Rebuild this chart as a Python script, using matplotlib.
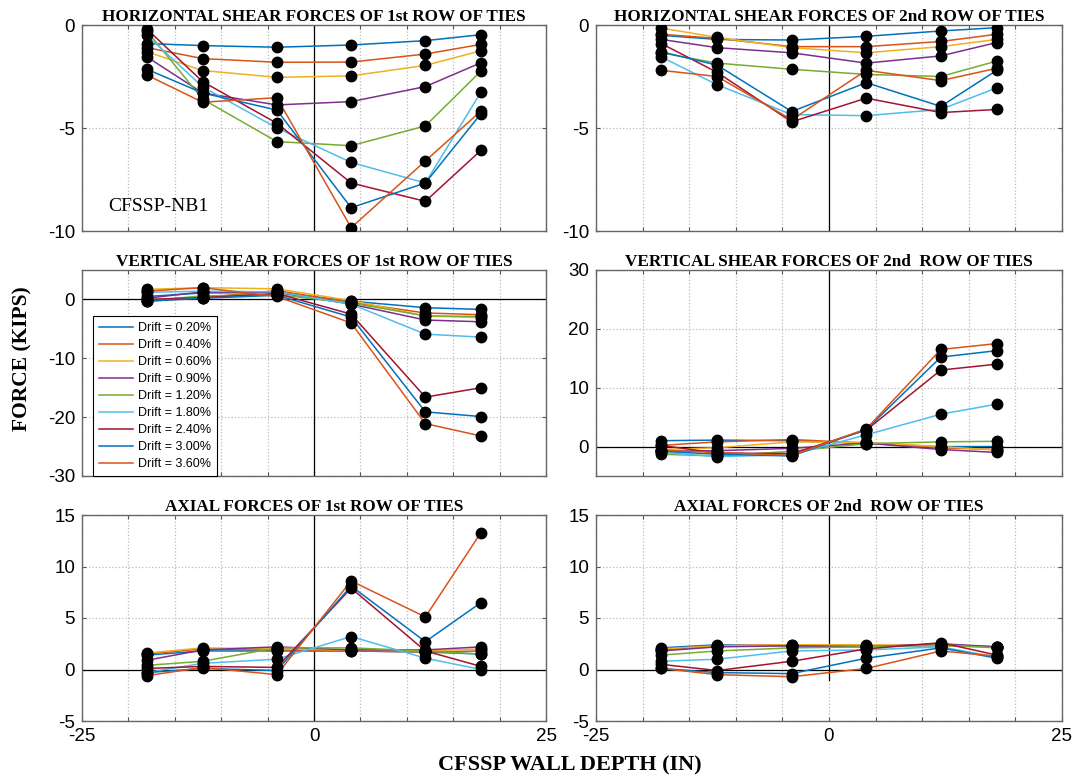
#!/usr/bin/env python

import matplotlib.pyplot as plt

# tie positions across the wall depth (in)
depth = [-18, -12, -4, 4, 12, 18]

drifts = ["0.20%", "0.40%", "0.60%", "0.90%", "1.20%", "1.80%", "2.40%", "3.00%", "3.60%"]
colors = ['#0072BD', '#D95319', '#EDB120', '#7E2F8E', '#77AC30',
          '#4DBEEE', '#A2142F', '#0072BD', '#D95319']

# forces (kips), one row per drift level
hshear_row1 = [
    [-0.9, -1.0, -1.08, -0.97, -0.76, -0.47],
    [-1.1, -1.63, -1.81, -1.8, -1.41, -0.94],
    [-1.3, -2.21, -2.54, -2.47, -1.96, -1.25],
    [-1.55, -3.3, -3.88, -3.72, -2.99, -1.83],
    [-0.3, -3.6, -5.66, -5.86, -4.9, -2.23],
    [-0.5, -3.0, -5.0, -6.67, -7.67, -3.25],
    [-0.2, -2.75, -4.77, -7.67, -8.56, -6.08],
    [-2.15, -3.3, -4.13, -8.87, -7.67, -4.3],
    [-2.43, -3.75, -3.53, -9.84, -6.6, -4.17],
]
hshear_row2 = [
    [-0.5, -0.7, -0.73, -0.55, -0.29, -0.13],
    [-0.45, -0.65, -1.05, -1.05, -0.8, -0.45],
    [-0.15, -0.6, -1.1, -1.35, -1.05, -0.7],
    [-0.7, -1.1, -1.35, -1.85, -1.5, -0.85],
    [-1.35, -1.85, -2.15, -2.4, -2.5, -1.75],
    [-1.55, -2.9, -4.35, -4.4, -4.1, -3.05],
    [-0.9, -2.3, -4.7, -3.55, -4.25, -4.1],
    [-1.3, -1.95, -4.2, -2.8, -3.95, -2.2],
    [-2.2, -2.5, -4.6, -2.2, -2.7, -2.1],
]
vshear_row1 = [
    [0.5, 1.1, 1.2, -0.3, -1.4, -1.7],
    [-0.3, 0.3, 1.5, -0.5, -2.3, -2.6],
    [1.7, 2.0, 1.8, -0.2, -2.8, -3.1],
    [0.2, 1.3, 1.2, -0.8, -3.5, -3.8],
    [-0.2, 0.6, 0.8, -0.6, -2.8, -2.9],
    [1.2, 1.4, 1.3, -0.8, -5.9, -6.4],
    [0.0, 0.3, 1.0, -2.5, -16.6, -15.0],
    [-0.3, 0.2, 0.7, -3.0, -19.1, -19.9],
    [1.4, 2.0, 0.5, -4.0, -21.1, -23.2],
]
vshear_row2 = [
    [1.0, 1.1, 1.0, 0.5, 0.0, 0.0],
    [0.2, 0.8, 1.2, 0.6, -0.2, -0.5],
    [-0.5, -0.2, 0.8, 0.7, 0.0, -0.6],
    [-0.8, -0.7, -0.3, 0.6, -0.5, -1.0],
    [-1.3, -1.6, -0.8, 0.5, 0.8, 0.9],
    [-1.0, -1.7, -1.4, 2.0, 5.5, 7.2],
    [0.2, -1.1, -1.2, 2.8, 13.0, 14.0],
    [-0.8, -1.3, -1.6, 2.9, 15.2, 16.3],
    [-0.6, -1.0, -1.5, 3.0, 16.5, 17.5],
]
axial_row1 = [
    [1.4, 1.8, 1.8, 1.8, 1.7, 1.5],
    [1.5, 2.0, 1.9, 1.8, 1.7, 1.8],
    [1.6, 2.1, 2.0, 1.9, 1.8, 2.0],
    [0.9, 1.9, 2.2, 1.9, 1.9, 2.2],
    [0.4, 0.8, 2.1, 2.1, 1.8, 1.5],
    [-0.3, 0.6, 1.0, 3.2, 1.1, 0.0],
    [0.1, 0.3, 0.2, 7.9, 1.8, 0.3],
    [-0.3, 0.1, -0.1, 8.1, 2.7, 6.5],
    [-0.6, 0.2, -0.5, 8.6, 5.1, 13.3],
]
axial_row2 = [
    [2.1, 2.4, 2.3, 2.3, 2.3, 2.2],
    [1.9, 2.3, 2.4, 2.3, 2.4, 2.2],
    [2.0, 2.3, 2.4, 2.4, 2.3, 2.2],
    [1.8, 2.2, 2.3, 2.2, 2.5, 2.2],
    [1.4, 1.8, 2.1, 2.2, 2.4, 2.1],
    [0.8, 1.0, 1.8, 1.9, 2.2, 1.2],
    [0.5, -0.1, 0.8, 2.0, 2.6, 1.4],
    [0.1, -0.3, -0.4, 1.1, 2.1, 1.1],
    [0.1, -0.5, -0.7, 0.1, 1.8, 1.3],
]

panels = [
    ("HORIZONTAL SHEAR FORCES OF 1st ROW OF TIES", hshear_row1, (-10, 0), [-10, -5, 0]),
    ("HORIZONTAL SHEAR FORCES OF 2nd ROW OF TIES", hshear_row2, (-10, 0), [-10, -5, 0]),
    ("VERTICAL SHEAR FORCES OF 1st ROW OF TIES", vshear_row1, (-30, 5), [-30, -20, -10, 0]),
    ("VERTICAL SHEAR FORCES OF 2nd  ROW OF TIES", vshear_row2, (-5, 30), [0, 10, 20, 30]),
    ("AXIAL FORCES OF 1st ROW OF TIES", axial_row1, (-5, 15), [-5, 0, 5, 10, 15]),
    ("AXIAL FORCES OF 2nd  ROW OF TIES", axial_row2, (-5, 15), [-5, 0, 5, 10, 15]),
]

SERIF = 'Liberation Serif'
SANS = 'Liberation Sans'


def main():
    plt.rcParams['axes.unicode_minus'] = False

    fig = plt.figure(figsize=(10.73, 7.84), dpi=100)
    W, H = 1073, 784
    lefts = [82, 596]
    widths = [464, 466]
    tops = [25, 270, 515]
    height = 206

    for i, (title, data, ylim, yticks) in enumerate(panels):
        r, c = divmod(i, 2)
        ax = fig.add_axes([lefts[c] / W, 1 - (tops[r] + height) / H,
                           widths[c] / W, height / H])

        for k, ys in enumerate(data):
            ax.plot(depth, ys, color=colors[k], lw=1.1, label="Drift = " + drifts[k], zorder=3)
        for ys in data:
            ax.plot(depth, ys, 'o', color='k', ms=7.5, zorder=4)

        # reference axes through the origin
        if r > 0:
            ax.axhline(0, color='k', lw=0.9, zorder=2)
        if i == 5:
            ax.plot([0, 0], [-1, 15], color='k', lw=0.9, zorder=2)
        else:
            ax.axvline(0, color='k', lw=0.9, zorder=2)

        ax.set_xlim(-25, 25)
        ax.set_ylim(*ylim)
        ax.set_xticks(range(-25, 26, 5))
        if r == 2:
            ax.set_xticklabels(['-25' if v == -25 else '0' if v == 0 else '25' if v == 25 else ''
                                for v in range(-25, 26, 5)])
        else:
            ax.set_xticklabels([])
        ax.set_yticks(yticks)
        ax.grid(True, ls=':', color='#bbbbbb', lw=0.9)
        ax.tick_params(direction='in', top=True, right=True, length=3, width=0.8,
                       color='#555555', labelsize=13.5, pad=5)
        for lbl in ax.get_xticklabels() + ax.get_yticklabels():
            lbl.set_fontfamily(SANS)
        for s in ax.spines.values():
            s.set_color('#666666')
            s.set_linewidth(1.0)

        ax.set_title(title, fontfamily=SERIF, fontweight='bold', fontsize=12.3, pad=3)

        if i == 0:
            ax.text(-22.2, -8.8, "CFSSP-NB1", fontfamily=SERIF, fontsize=14, va='center')
        if i == 2:
            leg = ax.legend(loc='upper left', bbox_to_anchor=(0.0237, 0.777), borderaxespad=0,
                            prop={'family': SANS, 'size': 9}, labelspacing=0.4,
                            handlelength=2.7, handletextpad=0.4, borderpad=0.5,
                            fancybox=False, framealpha=1)
            leg.get_frame().set_edgecolor('k')
            leg.get_frame().set_linewidth(0.8)

    fig.text(22 / W, 1 - 359 / H, "FORCE (KIPS)", rotation=90, ha='center', va='center',
             fontfamily=SERIF, fontweight='bold', fontsize=15.5)
    fig.text(570 / W, 1 - 765 / H, "CFSSP WALL DEPTH (IN)", ha='center', va='center',
             fontfamily=SERIF, fontweight='bold', fontsize=16)

    fig.savefig("out.png", dpi=100)


if __name__ == '__main__':
    main()
